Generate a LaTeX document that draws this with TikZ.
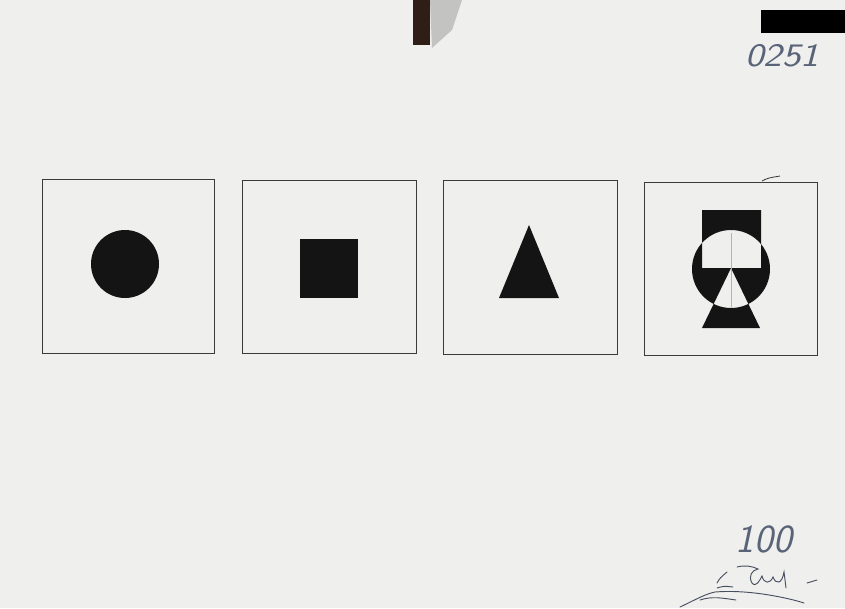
\documentclass[tikz,border=0pt]{standalone}
\definecolor{sheetPaper}{HTML}{EFEFEE}
\definecolor{sheetInk}{HTML}{141414}
\definecolor{sheetLine}{HTML}{3A3A3A}
\definecolor{sheetPencil}{HTML}{B4B4B4}
\definecolor{sheetPen}{HTML}{5A6478}
\definecolor{sheetClip}{HTML}{2E1E16}
\tikzset{
  every picture/.style={font=\sffamily, text=sheetPen},
  sheet frame/.style={draw=sheetLine, line width=0.7pt},
  sheet solid/.style={fill=sheetInk},
  sheet guide/.style={draw=sheetPencil, line width=0.4pt},
  sheet hand/.style={draw=sheetPen!80!black, line width=0.8pt, line cap=round},
  sheet number/.style={text=sheetPen, inner sep=0pt}
}
\begin{document}
\begin{tikzpicture}[x=0.03cm,y=-0.03cm]
  % paper
  \fill[sheetPaper] (0,0) rectangle (845,608);
  \useasboundingbox (0,0) rectangle (845,608);
  % clip on the top edge, black tape on the right
  \fill[gray!70, opacity=0.6] (430,0) -- (462,0) -- (452,30) -- (432,48) -- cycle;
  \fill[sheetClip] (413,0) rectangle (430,45);
  \fill[black] (761,10) rectangle (845,33);
  % four frames
  \draw[sheet frame] (42,179) rectangle (214,353);
  \draw[sheet frame] (242,180) rectangle (416,353);
  \draw[sheet frame] (443,180) rectangle (617,354);
  \draw[sheet frame] (644,182) rectangle (817,355);
  \draw[sheet frame] (762,181) .. controls (768,178) .. (780,176);
  % figures
  \fill[sheet solid] (125,264) circle (34);
  \fill[sheet solid] (300,239) rectangle (358,298);
  \fill[sheet solid] (529,225) -- (499,298) -- (559,298) -- cycle;
  \fill[sheet solid, even odd rule]
    (702,210) rectangle (761,268)
    (731,269) circle (39)
    (731,268) -- (702,328) -- (760,328) -- cycle;
  \draw[sheet guide] (731,233) -- (731,307);
  % hand written marks
  \node[sheet number, font=\fontsize{28}{28}\sffamily\slshape, xscale=1.2] (sheetNo) at (782,56) {0251};
  \node[sheet number, font=\fontsize{34}{34}\sffamily\slshape] (sheetScore) at (764,539) {100};
  \draw[sheet hand] (717,583) .. controls (720,578) .. (727,572);
  \draw[sheet hand] (737,567) .. controls (745,565) and (752,566) .. (758,569)
    .. controls (752,570) and (748,576) .. (752,583)
    .. controls (756,588) and (760,580) .. (762,576)
    .. controls (764,584) and (770,584) .. (773,577)
    .. controls (776,585) and (782,584) .. (784,572) -- (786,588);
  \draw[sheet hand] (807,583) -- (817,580);
  \draw[sheet hand] (680,607) .. controls (695,600) and (705,594) .. (715,592)
    .. controls (740,590) and (765,594) .. (780,597)
    .. controls (790,599) and (798,601) .. (804,603);
  \draw[sheet hand] (717,588) .. controls (724,586) .. (733,587);
  \draw[sheet hand] (700,600) .. controls (712,596) and (722,598) .. (736,600);
\end{tikzpicture}
\end{document}
